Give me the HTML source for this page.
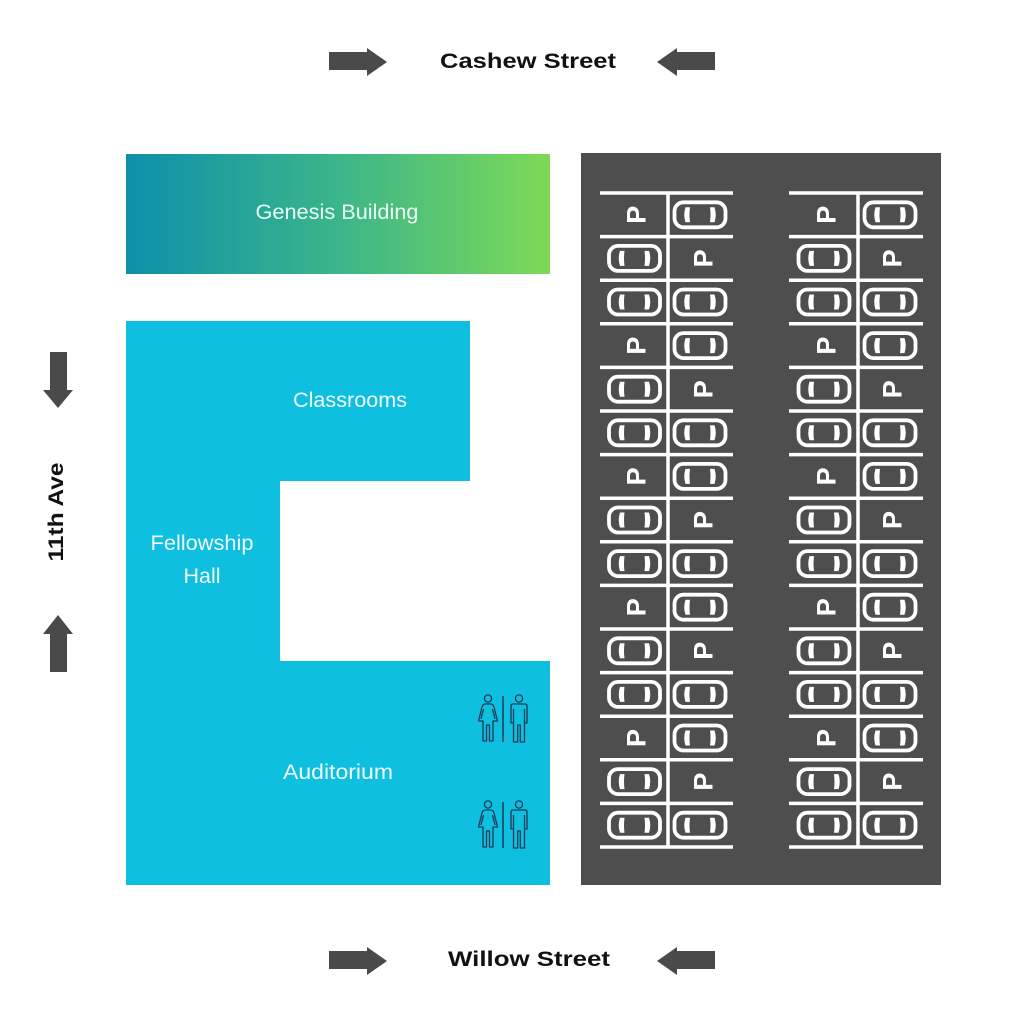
<!DOCTYPE html>
<html>
<head>
<meta charset="utf-8">
<style>
  html, body { margin: 0; padding: 0; background: #ffffff; }
  body { width: 1024px; height: 1024px; overflow: hidden; }
  svg { display: block; }
</style>
</head>
<body>
<svg width="1024" height="1024" viewBox="0 0 1024 1024" xmlns="http://www.w3.org/2000/svg">
  <defs>
    <linearGradient id="gen" x1="0" y1="0" x2="1" y2="0">
      <stop offset="0" stop-color="#0d8fab"/>
      <stop offset="0.5" stop-color="#3bb58a"/>
      <stop offset="1" stop-color="#7ed957"/>
    </linearGradient>
    <g id="car">
      <rect x="-25.5" y="-12.5" width="51" height="25" rx="9" ry="9" fill="none" stroke="#ffffff" stroke-width="3.8"/>
      <path d="M-14.5,-7.5 Q-17,0 -14.5,7.5 L-10,7.5 Q-11,0 -10,-7.5 Z" fill="#ffffff"/>
      <path d="M14.5,-7.5 Q17,0 14.5,7.5 L10,7.5 Q11,0 10,-7.5 Z" fill="#ffffff"/>
    </g>
    <g id="woman" fill="none" stroke="#1d3a58" stroke-width="1.3" stroke-linejoin="round">
      <circle cx="11" cy="4.5" r="3.6"/>
      <path d="M8,10 L14,10 Q16,10 17,13 L20.5,27 L16,27 L16,47 L12.5,47 L12.5,31 L9.5,31 L9.5,47 L6,47 L6,27 L1.5,27 L5,13 Q6,10 8,10 Z"/>
      <path d="M6.5,15 L4,25 M15.5,15 L18,25"/>
    </g>
    <g id="man" fill="none" stroke="#1d3a58" stroke-width="1.3" stroke-linejoin="round">
      <circle cx="9" cy="4.5" r="3.6"/>
      <path d="M3,10 L15,10 Q17,10 17,12 L17,29 L14.5,29 L14.5,48 L10.3,48 L10.3,31 L7.7,31 L7.7,48 L3.5,48 L3.5,29 L1,29 L1,12 Q1,10 3,10 Z"/>
      <path d="M3.5,15 L3.5,29 M14.5,15 L14.5,29"/>
    </g>
  </defs>

  <!-- Street arrows top -->
  <polygon points="329,52 367,52 367,48 387,62 367,76 367,70 329,70" fill="#4a4a4a"/>
  <polygon points="715,52 677,52 677,48 657,62 677,76 677,70 715,70" fill="#4a4a4a"/>
  <text x="528" y="68" text-anchor="middle" font-family="Liberation Sans, sans-serif" font-weight="bold" font-size="21" fill="#111111" textLength="176" lengthAdjust="spacingAndGlyphs">Cashew Street</text>

  <!-- Street arrows bottom -->
  <polygon points="329,951 367,951 367,947 387,961 367,975 367,969 329,969" fill="#4a4a4a"/>
  <polygon points="715,951 677,951 677,947 657,961 677,975 677,969 715,969" fill="#4a4a4a"/>
  <text x="529" y="966" text-anchor="middle" font-family="Liberation Sans, sans-serif" font-weight="bold" font-size="21" fill="#111111" textLength="162" lengthAdjust="spacingAndGlyphs">Willow Street</text>

  <!-- Left arrows -->
  <polygon points="50,352 67,352 67,390 73,390 58,408 43,390 50,390" fill="#4a4a4a"/>
  <polygon points="50,672 67,672 67,634 73,634 58,615 43,634 50,634" fill="#4a4a4a"/>
  <text transform="translate(63,512) rotate(-90)" x="0" y="0" text-anchor="middle" font-family="Liberation Sans, sans-serif" font-weight="bold" font-size="21" fill="#111111" textLength="99" lengthAdjust="spacingAndGlyphs">11th Ave</text>

  <!-- Genesis Building -->
  <rect x="126" y="154" width="424" height="120" fill="url(#gen)"/>
  <text x="337" y="219" text-anchor="middle" font-family="Liberation Sans, sans-serif" font-size="21" fill="#eafcf6" textLength="163" lengthAdjust="spacingAndGlyphs">Genesis Building</text>

  <!-- Main blue building -->
  <polygon points="126,321 470,321 470,481 280,481 280,661 550,661 550,885 126,885" fill="#0fbfdf"/>
  <text x="350" y="407" text-anchor="middle" font-family="Liberation Sans, sans-serif" font-size="21" fill="#eefbff" textLength="114" lengthAdjust="spacingAndGlyphs">Classrooms</text>
  <text x="202" y="550" text-anchor="middle" font-family="Liberation Sans, sans-serif" font-size="21" fill="#eefbff" textLength="103" lengthAdjust="spacingAndGlyphs">Fellowship</text>
  <text x="202" y="583" text-anchor="middle" font-family="Liberation Sans, sans-serif" font-size="21" fill="#eefbff" textLength="37" lengthAdjust="spacingAndGlyphs">Hall</text>
  <text x="338" y="779" text-anchor="middle" font-family="Liberation Sans, sans-serif" font-size="21" fill="#eefbff" textLength="110" lengthAdjust="spacingAndGlyphs">Auditorium</text>

  <!-- Restrooms -->
  <use href="#woman" x="477" y="694"/>
  <line x1="503" y1="696" x2="503" y2="742" stroke="#1d3a58" stroke-width="1.5"/>
  <use href="#man" x="510" y="694"/>
  <use href="#woman" x="477" y="800"/>
  <line x1="503" y1="802" x2="503" y2="848" stroke="#1d3a58" stroke-width="1.5"/>
  <use href="#man" x="510" y="800"/>

  <!-- Parking lot -->
  <rect x="581" y="153" width="360" height="732" fill="#4e4e4e"/>

  <g stroke="#ffffff" stroke-width="3.5">
    <line x1="600" y1="193" x2="733" y2="193"/>
    <line x1="600" y1="236.6" x2="733" y2="236.6"/>
    <line x1="600" y1="280.2" x2="733" y2="280.2"/>
    <line x1="600" y1="323.8" x2="733" y2="323.8"/>
    <line x1="600" y1="367.4" x2="733" y2="367.4"/>
    <line x1="600" y1="411" x2="733" y2="411"/>
    <line x1="600" y1="454.6" x2="733" y2="454.6"/>
    <line x1="600" y1="498.2" x2="733" y2="498.2"/>
    <line x1="600" y1="541.8" x2="733" y2="541.8"/>
    <line x1="600" y1="585.4" x2="733" y2="585.4"/>
    <line x1="600" y1="629" x2="733" y2="629"/>
    <line x1="600" y1="672.6" x2="733" y2="672.6"/>
    <line x1="600" y1="716.2" x2="733" y2="716.2"/>
    <line x1="600" y1="759.8" x2="733" y2="759.8"/>
    <line x1="600" y1="803.4" x2="733" y2="803.4"/>
    <line x1="600" y1="847" x2="733" y2="847"/>
    <line x1="668" y1="193" x2="668" y2="847"/>
    <line x1="789" y1="193" x2="923" y2="193"/>
    <line x1="789" y1="236.6" x2="923" y2="236.6"/>
    <line x1="789" y1="280.2" x2="923" y2="280.2"/>
    <line x1="789" y1="323.8" x2="923" y2="323.8"/>
    <line x1="789" y1="367.4" x2="923" y2="367.4"/>
    <line x1="789" y1="411" x2="923" y2="411"/>
    <line x1="789" y1="454.6" x2="923" y2="454.6"/>
    <line x1="789" y1="498.2" x2="923" y2="498.2"/>
    <line x1="789" y1="541.8" x2="923" y2="541.8"/>
    <line x1="789" y1="585.4" x2="923" y2="585.4"/>
    <line x1="789" y1="629" x2="923" y2="629"/>
    <line x1="789" y1="672.6" x2="923" y2="672.6"/>
    <line x1="789" y1="716.2" x2="923" y2="716.2"/>
    <line x1="789" y1="759.8" x2="923" y2="759.8"/>
    <line x1="789" y1="803.4" x2="923" y2="803.4"/>
    <line x1="789" y1="847" x2="923" y2="847"/>
    <line x1="858" y1="193" x2="858" y2="847"/>
  </g>

  <!-- left group cars -->
  <use href="#car" x="700" y="214.8"/>
  <use href="#car" x="634.5" y="258.4"/>
  <use href="#car" x="634.5" y="302"/><use href="#car" x="700" y="302"/>
  <use href="#car" x="700" y="345.6"/>
  <use href="#car" x="634.5" y="389.2"/>
  <use href="#car" x="634.5" y="432.8"/><use href="#car" x="700" y="432.8"/>
  <use href="#car" x="700" y="476.4"/>
  <use href="#car" x="634.5" y="520"/>
  <use href="#car" x="634.5" y="563.6"/><use href="#car" x="700" y="563.6"/>
  <use href="#car" x="700" y="607.2"/>
  <use href="#car" x="634.5" y="650.8"/>
  <use href="#car" x="634.5" y="694.4"/><use href="#car" x="700" y="694.4"/>
  <use href="#car" x="700" y="738"/>
  <use href="#car" x="634.5" y="781.6"/>
  <use href="#car" x="634.5" y="825.2"/><use href="#car" x="700" y="825.2"/>
  <!-- right group cars -->
  <use href="#car" x="890" y="214.8"/>
  <use href="#car" x="824" y="258.4"/>
  <use href="#car" x="824" y="302"/><use href="#car" x="890" y="302"/>
  <use href="#car" x="890" y="345.6"/>
  <use href="#car" x="824" y="389.2"/>
  <use href="#car" x="824" y="432.8"/><use href="#car" x="890" y="432.8"/>
  <use href="#car" x="890" y="476.4"/>
  <use href="#car" x="824" y="520"/>
  <use href="#car" x="824" y="563.6"/><use href="#car" x="890" y="563.6"/>
  <use href="#car" x="890" y="607.2"/>
  <use href="#car" x="824" y="650.8"/>
  <use href="#car" x="824" y="694.4"/><use href="#car" x="890" y="694.4"/>
  <use href="#car" x="890" y="738"/>
  <use href="#car" x="824" y="781.6"/>
  <use href="#car" x="824" y="825.2"/><use href="#car" x="890" y="825.2"/>

  <!-- P markers (rotated) -->
  <g font-family="Liberation Sans, sans-serif" font-weight="bold" font-size="27" fill="#ffffff" text-anchor="middle">
    <text transform="translate(636,214.8) rotate(-90)" y="9.6">P</text>
    <text transform="translate(703,258.4) rotate(-90)" y="9.6">P</text>
    <text transform="translate(636,345.6) rotate(-90)" y="9.6">P</text>
    <text transform="translate(703,389.2) rotate(-90)" y="9.6">P</text>
    <text transform="translate(636,476.4) rotate(-90)" y="9.6">P</text>
    <text transform="translate(703,520) rotate(-90)" y="9.6">P</text>
    <text transform="translate(636,607.2) rotate(-90)" y="9.6">P</text>
    <text transform="translate(703,650.8) rotate(-90)" y="9.6">P</text>
    <text transform="translate(636,738) rotate(-90)" y="9.6">P</text>
    <text transform="translate(703,781.6) rotate(-90)" y="9.6">P</text>

    <text transform="translate(826,214.8) rotate(-90)" y="9.6">P</text>
    <text transform="translate(892,258.4) rotate(-90)" y="9.6">P</text>
    <text transform="translate(826,345.6) rotate(-90)" y="9.6">P</text>
    <text transform="translate(892,389.2) rotate(-90)" y="9.6">P</text>
    <text transform="translate(826,476.4) rotate(-90)" y="9.6">P</text>
    <text transform="translate(892,520) rotate(-90)" y="9.6">P</text>
    <text transform="translate(826,607.2) rotate(-90)" y="9.6">P</text>
    <text transform="translate(892,650.8) rotate(-90)" y="9.6">P</text>
    <text transform="translate(826,738) rotate(-90)" y="9.6">P</text>
    <text transform="translate(892,781.6) rotate(-90)" y="9.6">P</text>
  </g>
</svg>
</body>
</html>
